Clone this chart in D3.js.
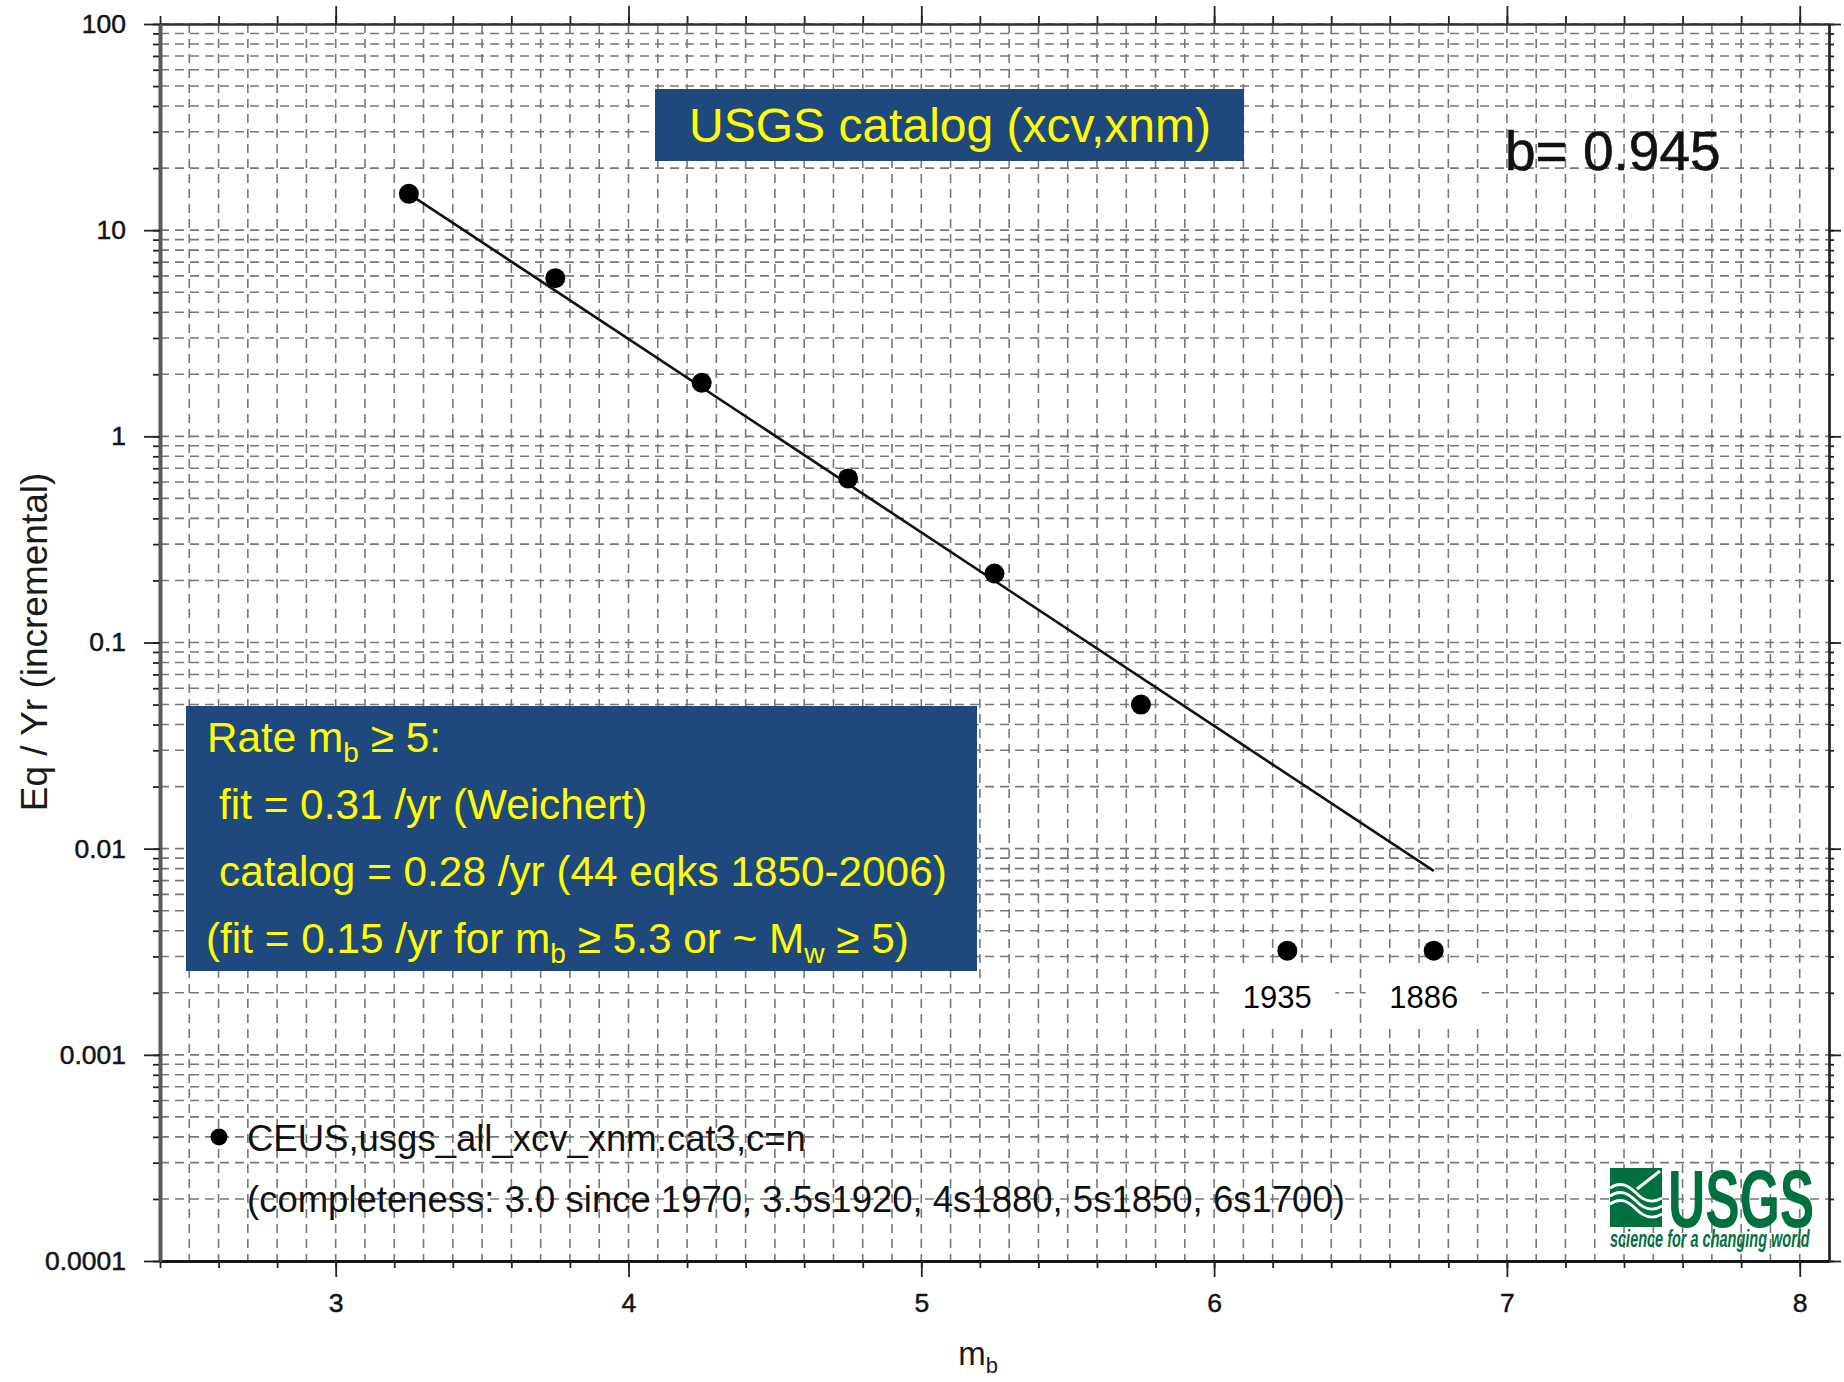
<!DOCTYPE html>
<html>
<head>
<meta charset="utf-8">
<script src="https://cdn.jsdelivr.net/npm/d3@7"></script>
<style>
  body { margin: 0; background: #fff; }
  svg text { font-family: "Liberation Sans", Arial, Helvetica, sans-serif; }
</style>
</head>
<body>
<div id="chart"></div>
<script>
// magnitude bins and incremental rates
const magnitudes = [3.25, 3.75, 4.25, 4.75, 5.25, 5.75, 6.25, 6.75];
const rates = [15.0, 5.85, 1.82, 0.625, 0.216, 0.050, 0.0032, 0.0032];

// Gutenberg-Richter fit line endpoints
const fitMagnitudes = [3.25, 6.75];
const fitRates = [15.0, 0.0078];

const xMajorTicks = [3, 4, 5, 6, 7, 8];
const yMajorTicks = [0.0001, 0.001, 0.01, 0.1, 1, 10, 100];
const yTickLabels = ["0.0001", "0.001", "0.01", "0.1", "1", "10", "100"];

const yearMagnitudes = [6.25, 6.75];
const yearLabels = ["1935", "1886"];

const W = 1844, H = 1382;
const margin = {top: 24, right: 15, bottom: 121, left: 160};

const svg = d3.select("#chart").append("svg")
    .attr("width", W)
    .attr("height", H);

svg.append("rect").attr("width", W).attr("height", H).attr("fill", "#fff");

const x = d3.scaleLinear()
    .domain([2.4, 8.1])
    .range([margin.left, W - margin.right]);

const y = d3.scaleLog()
    .domain([1e-4, 100])
    .range([H - margin.bottom, margin.top]);

const x0 = x.range()[0], x1 = x.range()[1];
const y0 = y.range()[0], y1 = y.range()[1];

// dashed grid
const grid = svg.append("g").attr("class", "grid")
    .attr("stroke", "#777")
    .attr("stroke-width", 1.6)
    .attr("stroke-dasharray", "9,6");

grid.selectAll(".vgrid")
    .data(d3.range(25, 81).map(d => d / 10))
    .enter().append("line")
    .attr("x1", d => x(d)).attr("x2", d => x(d))
    .attr("y1", y1).attr("y2", y0);

grid.selectAll(".hgrid")
    .data(y.ticks())
    .enter().append("line")
    .attr("x1", x0).attr("x2", x1)
    .attr("y1", d => y(d)).attr("y2", d => y(d));

// axes
const xMinor = d3.range(12, 41).map(d => d / 5);
const yMinor = y.ticks();

function styleAxis(g, color, width) {
    g.select(".domain").attr("stroke", color).attr("stroke-width", width);
    g.selectAll(".tick line").attr("stroke", "#222").attr("stroke-width", 1.8);
    g.selectAll(".tick text")
        .attr("fill", "#141414")
        .attr("stroke", "#141414")
        .attr("stroke-width", 0.5)
        .style("font-size", "26.5px");
}

// bottom
svg.append("g").attr("transform", `translate(0,${y0})`)
    .call(d3.axisBottom(x).tickValues(xMinor).tickSize(7).tickSizeOuter(0).tickFormat(""))
    .call(g => styleAxis(g, "#111", 2.6));
svg.append("g").attr("transform", `translate(0,${y0})`)
    .call(d3.axisBottom(x).tickValues(xMajorTicks).tickSize(16).tickSizeOuter(0).tickPadding(16).tickFormat(d3.format("d")))
    .call(g => styleAxis(g, "#111", 2.6));

// top
svg.append("g").attr("transform", `translate(0,${y1})`)
    .call(d3.axisTop(x).tickValues(xMinor).tickSize(8).tickSizeOuter(0).tickFormat(""))
    .call(g => styleAxis(g, "#333", 2.2));
svg.append("g").attr("transform", `translate(0,${y1})`)
    .call(d3.axisTop(x).tickValues(xMajorTicks).tickSize(18).tickSizeOuter(0).tickFormat(""))
    .call(g => styleAxis(g, "#333", 2.2));

// right
svg.append("g").attr("transform", `translate(${x1},0)`)
    .call(d3.axisRight(y).tickValues(yMinor).tickSize(5).tickSizeOuter(0).tickFormat(""))
    .call(g => styleAxis(g, "#222", 2.2));
svg.append("g").attr("transform", `translate(${x1},0)`)
    .call(d3.axisRight(y).tickValues(yMajorTicks).tickSize(12).tickSizeOuter(0).tickFormat(""))
    .call(g => styleAxis(g, "#222", 2.2));

// left
svg.append("g").attr("transform", `translate(${x0},0)`)
    .call(d3.axisLeft(y).tickValues(yMinor).tickSize(7).tickSizeOuter(0).tickFormat(""))
    .call(g => styleAxis(g, "#5a5a5a", 3.6));
svg.append("g").attr("transform", `translate(${x0},0)`)
    .call(d3.axisLeft(y).tickValues(yMajorTicks).tickSize(16).tickSizeOuter(0).tickPadding(18)
        .tickFormat((d, i) => yTickLabels[i]))
    .call(g => styleAxis(g, "#5a5a5a", 3.6));

// axis titles
const xt = svg.append("text")
    .attr("x", 978).attr("y", 1365)
    .attr("text-anchor", "middle")
    .attr("fill", "#1a1a1a")
    .style("font-size", "33px");
xt.append("tspan").text("m");
xt.append("tspan").attr("dy", 8).style("font-size", "22px").text("b");

svg.append("text")
    .attr("transform", "translate(47,642) rotate(-90)")
    .attr("text-anchor", "middle")
    .attr("fill", "#1a1a1a")
    .style("font-size", "37px")
    .text("Eq / Yr (incremental)");

// fit line
const fitPts = fitMagnitudes.map((m, i) => [m, fitRates[i]]);
svg.append("path")
    .datum(fitPts)
    .attr("fill", "none")
    .attr("stroke", "#111")
    .attr("stroke-width", 2.6)
    .attr("d", d3.line().x(d => x(d[0])).y(d => y(d[1])));

// points
svg.selectAll(".pt")
    .data(magnitudes)
    .enter().append("circle")
    .attr("class", "pt")
    .attr("cx", d => x(d))
    .attr("cy", (d, i) => y(rates[i]))
    .attr("r", 10)
    .attr("fill", "#000");

// year labels under the two largest events
const yl = svg.selectAll(".yr")
    .data(yearMagnitudes)
    .enter().append("g")
    .attr("class", "yr")
    .attr("transform", d => `translate(${x(d) - 10},${y(rates[magnitudes.indexOf(d)])})`);
yl.append("rect")
    .attr("x", -58).attr("y", 17)
    .attr("width", 116).attr("height", 58)
    .attr("fill", "#fff");
yl.append("text")
    .attr("y", 57)
    .attr("text-anchor", "middle")
    .attr("fill", "#000")
    .style("font-size", "31px")
    .text((d, i) => yearLabels[i]);

// title box
const blue = "#1f497d", yellow = "#ffff00";
svg.append("rect")
    .attr("x", 655).attr("y", 89).attr("width", 589).attr("height", 72)
    .attr("fill", blue);
svg.append("text")
    .attr("x", 950).attr("y", 142)
    .attr("text-anchor", "middle")
    .attr("fill", yellow)
    .style("font-size", "48px")
    .text("USGS catalog (xcv,xnm)");

// b-value
svg.append("text")
    .attr("x", 1505).attr("y", 170)
    .attr("fill", "#111")
    .attr("stroke", "#111")
    .attr("stroke-width", 0.6)
    .style("font-size", "55px")
    .text("b= 0.945");

// rate box
svg.append("rect")
    .attr("x", 186).attr("y", 706).attr("width", 791).attr("height", 265)
    .attr("fill", blue);

const rateBox = svg.append("g")
    .attr("fill", yellow)
    .style("font-size", "42.3px");

// text line with subscripts: parts are plain strings or {sub: "..."}
function subText(g, xPos, yPos, parts) {
    const t = g.append("text").attr("x", xPos).attr("y", yPos);
    let shifted = false;
    parts.forEach(p => {
        if (typeof p === "object") {
            t.append("tspan").attr("dy", 10).style("font-size", "28px").text(p.sub);
            shifted = true;
        } else {
            t.append("tspan").attr("dy", shifted ? -10 : null).text(p);
            shifted = false;
        }
    });
    return t;
}

subText(rateBox, 207, 752, ["Rate m", {sub: "b"}, " \u2265 5:"]);
subText(rateBox, 219, 819, ["fit = 0.31 /yr (Weichert)"]);
subText(rateBox, 219, 886, ["catalog = 0.28 /yr (44 eqks 1850-2006)"]);
subText(rateBox, 206, 953, ["(fit = 0.15 /yr for m", {sub: "b"}, " \u2265 5.3 or ~ M", {sub: "w"}, " \u2265 5)"]);

// legend
svg.append("circle")
    .attr("cx", 219).attr("cy", 1137).attr("r", 8.5)
    .attr("fill", "#000");
svg.append("text")
    .attr("x", 247).attr("y", 1151)
    .attr("fill", "#111")
    .style("font-size", "36.5px")
    .text("CEUS,usgs_all_xcv_xnm.cat3,c=n");
svg.append("text")
    .attr("x", 247).attr("y", 1212)
    .attr("fill", "#111")
    .style("font-size", "36.5px")
    .text("(completeness: 3.0 since 1970, 3.5s1920, 4s1880, 5s1850, 6s1700)");

// USGS logo
const green = "#00703f";
const logo = svg.append("g").attr("transform", "translate(1610,1168)");
logo.append("rect").attr("width", 52).attr("height", 59).attr("fill", green);
logo.append("path")
    .attr("d", "M50,3 L27,21")
    .attr("stroke", "#fff").attr("stroke-width", 3).attr("fill", "none");
[0, 8, 16].forEach(o => {
    logo.append("path")
        .attr("d", `M0,${20 + o} C10,${13 + o} 18,${17 + o} 26,${25 + o} S42,${36 + o} 52,${30 + o}`)
        .attr("stroke", "#fff").attr("stroke-width", 3).attr("fill", "none");
});
const logoText = svg.append("g")
    .attr("transform", "translate(1610,0) scale(0.63,1)")
    .append("text")
    .attr("fill", green)
    .style("font-weight", "bold");
logoText.append("tspan")
    .attr("x", 92).attr("y", 1227)
    .style("font-size", "82px")
    .text("USGS");
logoText.append("tspan")
    .attr("x", 0).attr("y", 1247)
    .style("font-size", "23px")
    .style("font-style", "italic")
    .text("science for a changing world");
</script>
</body>
</html>
